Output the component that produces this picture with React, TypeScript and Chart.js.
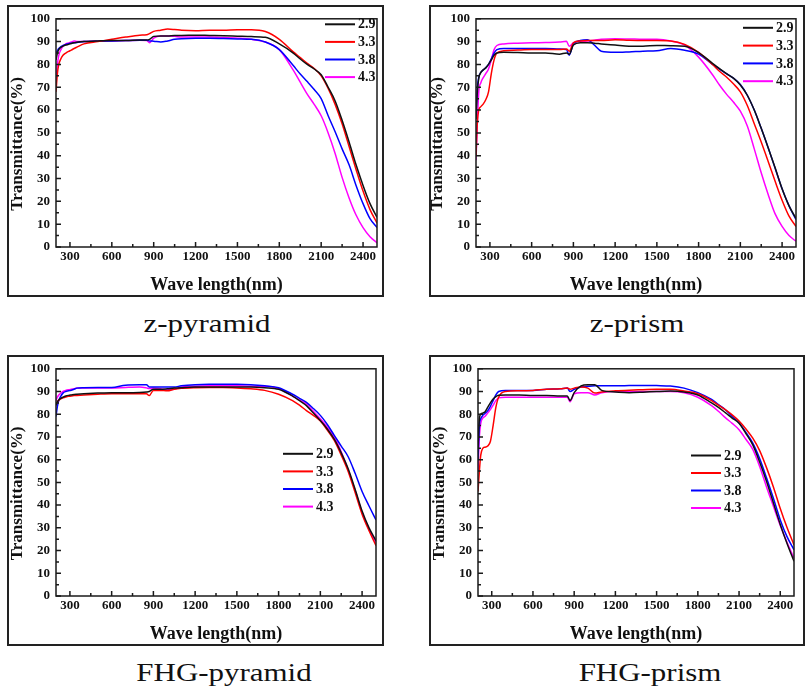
import React, { useEffect, useRef } from "react";
import { Chart, registerables } from "chart.js";

Chart.register(...registerables);

const SERIF = '"Liberation Serif", "Times New Roman", serif';

// Wavelength grid (nm) shared by every series
const WAVELENGTHS = [
  200, 210, 220, 235, 250, 270, 290, 310, 330, 350, 400, 500, 600, 700, 800, 850, 870, 900, 950, 1000,
  1050, 1100, 1200, 1300, 1400, 1500, 1600, 1700, 1800, 1900, 1950, 2000, 2050, 2100, 2150, 2200,
  2250, 2300, 2350, 2400, 2450, 2500,
];

const X_TICKS = [300, 600, 900, 1200, 1500, 1800, 2100, 2400];
const X_MINOR = [450, 750, 1050, 1350, 1650, 1950, 2250];
const Y_TICKS = [0, 10, 20, 30, 40, 50, 60, 70, 80, 90, 100];
const Y_MINOR = [5, 15, 25, 35, 45, 55, 65, 75, 85, 95];

const SERIES_LABELS = ["2.9", "3.3", "3.8", "4.3"];
const SERIES_COLORS = ["#111111", "#ff0000", "#0000ff", "#ff00ff"];

// ---- z-pyramid ----
const Z_PYRAMID_29 = [
  82, 85, 86.5, 87.5, 88, 88.5, 88.8, 89.2, 89.5, 89.7, 90, 90.3, 90.5, 90.5, 90.7, 90.7, 91, 92.3, 92.5, 92.5,
  92.7, 92.7, 92.8, 92.7, 92.6, 92.4, 92.2, 91.9, 89, 85, 82.4, 80, 78, 75.5, 70, 64,
  55.5, 46, 36, 27, 19, 13,
];
const Z_PYRAMID_33 = [
  68, 76, 80, 82.5, 84, 85, 85.7, 86.3, 87, 87.6, 89, 90, 91, 92, 92.8, 93, 93.5, 94.5, 95, 95.5,
  95.3, 95, 94.8, 95, 95, 95.2, 95.2, 94.4, 91, 85.5, 83, 80.5, 78.2, 75, 69.5, 62.5,
  54, 44, 34, 24.5, 16.4, 10.5,
];
const Z_PYRAMID_38 = [
  85, 86, 87, 87.8, 88.3, 88.8, 89.1, 89.3, 89.5, 89.6, 90, 90.2, 90.3, 90.5, 90.6, 90.6, 90.3, 90.2, 89.8, 90.3,
  91, 91.3, 91.5, 91.5, 91.4, 91.2, 91, 89.8, 86.5, 79.5, 75.8, 72.5, 69, 65, 57.5, 50.5,
  43, 36, 27, 19, 12.4, 8.5,
];
const Z_PYRAMID_43 = [
  73, 80, 84, 86.5, 88, 89, 89.4, 89.8, 90.3, 90.1, 90, 90.2, 90.3, 90.5, 90.6, 90.5, 89.5, 91.5, 92.5, 92.5,
  92.3, 92, 92, 92, 91.8, 91.5, 91, 89.8, 86.5, 77.5, 72.2, 67, 62.5, 57.5, 50, 41,
  30.5, 21.5, 14, 8.5, 4.5, 1.8,
];

// ---- z-prism ----
const Z_PRISM_29 = [
  56, 68, 74, 76.5, 77.5, 78.5, 80, 82, 84, 85, 85.3, 85.2, 85, 85, 84.5, 85, 84.5, 88.5, 89.5, 89.5,
  89.3, 89, 88.5, 88, 88, 88.3, 88.2, 88, 85.2, 80.5, 78.2, 76, 74, 71, 66.5, 60,
  52, 43.5, 34.7, 25.5, 18, 12.5,
];
const Z_PRISM_33 = [
  40, 55, 60, 61.5, 62.5, 64.5, 68, 76, 82, 85, 86, 86.3, 86.5, 86.5, 86.5, 86.8, 85.8, 89.5, 90.3, 90.5,
  90.5, 90.5, 90.8, 90.6, 90.5, 90.5, 90.3, 88.8, 85.3, 80, 77, 74.5, 71.5, 68, 62, 54,
  46, 37.5, 28.8, 20.5, 13.5, 9,
];
const Z_PRISM_38 = [
  58, 70, 74.5, 76.5, 77.5, 78.5, 80, 82.5, 85, 86.5, 87, 87, 87, 87, 86.8, 86.5, 84, 89, 90.5, 90.8,
  88.5, 85.8, 85.3, 85.5, 85.8, 86, 87, 86.2, 84.5, 80, 78, 76, 74, 71.2, 66.5, 60,
  52, 43.5, 34.5, 25.5, 18, 12,
];
const Z_PRISM_43 = [
  38, 55, 68, 72, 74, 76, 78, 82, 86.5, 88.3, 89, 89.3, 89.5, 89.6, 89.8, 90.2, 88, 89.5, 90, 90.3,
  90.6, 91, 91.3, 91.2, 91, 91, 90.3, 88.5, 83.2, 75.5, 71, 67, 63.5, 59.5, 53, 43,
  32.5, 23, 14.5, 9, 5, 2.5,
];

// ---- FHG-pyramid ----
const FHG_PYRAMID_29 = [
  84, 85.5, 86.3, 87, 87.5, 88, 88.3, 88.5, 88.7, 88.8, 89, 89.3, 89.5, 89.5, 89.6, 89.8, 90, 91, 91, 91.2,
  91.5, 91.7, 92, 92, 92, 92, 92, 91.7, 91, 88, 86, 83.8, 80.5, 77.2, 73.5, 69,
  63, 56, 47, 37.4, 30, 24.3,
];
const FHG_PYRAMID_33 = [
  84, 85.5, 86.2, 86.8, 87.2, 87.6, 87.9, 88, 88.2, 88.3, 88.5, 88.8, 89, 89, 89, 89, 88.2, 90.5, 90.5, 90.3,
  91, 91.4, 91.7, 91.8, 91.8, 91.6, 91.2, 90.5, 88.8, 86, 84, 81.6, 79.5, 77, 73, 68.5,
  62, 54.8, 45.5, 36, 28.7, 22.2,
];
const FHG_PYRAMID_38 = [
  79, 83.5, 86, 88, 89.3, 90, 90.3, 90.6, 91, 91.5, 91.7, 91.8, 91.8, 92.8, 93, 93, 92, 92, 92, 92,
  92, 92.5, 93, 93.2, 93.2, 93.2, 93, 92.5, 91.7, 88.8, 87, 85.2, 82.5, 79.5, 75.5, 70.7,
  66, 61.3, 54, 46, 39.6, 33.5,
];
const FHG_PYRAMID_43 = [
  86, 87.5, 88.5, 89.3, 90, 90.5, 90.8, 91, 91.2, 91.5, 91.5, 91.5, 91.5, 91.8, 92, 91.6, 91.3, 91.5, 91.2, 90.8,
  91, 92, 92.3, 92.5, 92.5, 92.5, 92.3, 92.3, 91.3, 88, 86.3, 84.5, 81.3, 78, 74.3, 70,
  63.5, 55.5, 46.5, 36.7, 29.4, 23.6,
];

// ---- FHG-prism ----
const FHG_PRISM_29 = [
  65, 78, 80, 80.5, 81, 83, 85, 86.7, 87.8, 88.4, 88.5, 88.5, 88.3, 88.3, 88, 88, 86, 89.5, 92.5, 93,
  93, 90.5, 89.8, 89.5, 89.7, 90, 90.2, 89.8, 88.5, 85, 83, 80.7, 78.3, 76, 71.5, 66.5,
  59, 50.5, 41, 31.5, 23, 15.3,
];
const FHG_PRISM_33 = [
  46, 55, 62, 65, 65.5, 66, 68, 75, 83, 87.5, 90, 90.3, 90.5, 91, 91.2, 91.5, 91, 91.5, 92, 91.5,
  89.3, 89.8, 90.3, 90.6, 90.8, 91, 91, 90.2, 89, 86, 84, 82, 79.7, 77, 73.5, 69.5,
  64, 56.5, 48, 38.5, 30, 22.5,
];
const FHG_PRISM_38 = [
  60, 75, 78, 79.5, 80.3, 81.5, 83.5, 86, 88.5, 90, 90.5, 90.5, 90.5, 91, 91.2, 91.5, 90, 91, 92, 92.3,
  92.5, 92.5, 92.5, 92.6, 92.7, 92.6, 92.4, 91.5, 89.5, 86.5, 84.2, 82, 79, 76.3, 72, 67.3,
  60.5, 52, 43, 33.5, 26, 20.3,
];
const FHG_PRISM_43 = [
  55, 70, 76, 78.3, 79, 80.5, 82, 84, 86, 87.2, 87.5, 87.5, 87.5, 87.5, 87.5, 87.5, 85.5, 89, 89.5, 89.5,
  88.5, 89.5, 90, 90, 90, 90, 90, 89.5, 87.5, 83.8, 81.3, 78.5, 76, 73.2, 69, 64.5,
  57, 48, 39.5, 31, 23.5, 16.7,
];

type Panel = {
  caption: string;
  series: number[][];
  box: { left: number; top: number; width: number; height: number };
  pad: { top: number; right: number; yWidth: number; xHeight: number };
  legend: { dx: number; dy: number; step: number };
  captionX: number;
  captionTop: number;
};

const PANELS: Panel[] = [
  {
    caption: "z-pyramid",
    series: [Z_PYRAMID_29, Z_PYRAMID_33, Z_PYRAMID_38, Z_PYRAMID_43],
    box: { left: 7, top: 5, width: 377, height: 292 },
    pad: { top: 11, right: 7, yWidth: 49, xHeight: 50 },
    legend: { dx: 269, dy: 5.5, step: 17.6 },
    captionX: 207,
    captionTop: 311,
  },
  {
    caption: "z-prism",
    series: [Z_PRISM_29, Z_PRISM_33, Z_PRISM_38, Z_PRISM_43],
    box: { left: 429, top: 5, width: 376, height: 292 },
    pad: { top: 11, right: 9, yWidth: 47, xHeight: 50 },
    legend: { dx: 267, dy: 9, step: 17.8 },
    captionX: 637,
    captionTop: 311,
  },
  {
    caption: "FHG-pyramid",
    series: [FHG_PYRAMID_29, FHG_PYRAMID_33, FHG_PYRAMID_38, FHG_PYRAMID_43],
    box: { left: 7, top: 355, width: 377, height: 291 },
    pad: { top: 11, right: 8, yWidth: 49, xHeight: 50 },
    legend: { dx: 227, dy: 85, step: 17.6 },
    captionX: 224,
    captionTop: 660,
  },
  {
    caption: "FHG-prism",
    series: [FHG_PRISM_29, FHG_PRISM_33, FHG_PRISM_38, FHG_PRISM_43],
    box: { left: 429, top: 355, width: 376, height: 291 },
    pad: { top: 11, right: 11, yWidth: 49, xHeight: 50 },
    legend: { dx: 213, dy: 86.7, step: 17.5 },
    captionX: 650,
    captionTop: 660,
  },
];

const decorPlugin = {
  id: "decor",
  afterDatasetsDraw(chart: any, _args: any, opts: any) {
    const { ctx, chartArea: a, scales } = chart;
    const xs = scales.x;
    const ys = scales.y;
    ctx.save();
    ctx.strokeStyle = "#1a1a1a";
    ctx.lineWidth = 1.5;
    ctx.beginPath();
    X_TICKS.forEach((v) => {
      const x = xs.getPixelForValue(v);
      ctx.moveTo(x, a.bottom);
      ctx.lineTo(x, a.bottom - 5);
    });
    X_MINOR.forEach((v) => {
      const x = xs.getPixelForValue(v);
      ctx.moveTo(x, a.bottom);
      ctx.lineTo(x, a.bottom - 3);
    });
    Y_TICKS.forEach((v) => {
      const y = ys.getPixelForValue(v);
      ctx.moveTo(a.left, y);
      ctx.lineTo(a.left + 5, y);
    });
    Y_MINOR.forEach((v) => {
      const y = ys.getPixelForValue(v);
      ctx.moveTo(a.left, y);
      ctx.lineTo(a.left + 3, y);
    });
    ctx.stroke();
    ctx.strokeRect(a.left, a.top, a.right - a.left, a.bottom - a.top);

    // y axis title
    ctx.save();
    ctx.translate(a.left - 38, (a.top + a.bottom) / 2 + 11);
    ctx.rotate(-Math.PI / 2);
    ctx.font = `bold 17px ${SERIF}`;
    ctx.fillStyle = "#111";
    ctx.textAlign = "center";
    ctx.textBaseline = "middle";
    ctx.fillText("Transmittance(%)", 0, 0);
    ctx.restore();

    // legend
    const lg = opts.legend;
    ctx.font = `bold 14px ${SERIF}`;
    ctx.textAlign = "left";
    ctx.textBaseline = "middle";
    chart.data.datasets.forEach((ds: any, i: number) => {
      const x0 = a.left + lg.dx;
      const y = a.top + lg.dy + i * lg.step;
      ctx.strokeStyle = ds.borderColor;
      ctx.lineWidth = 2;
      ctx.beginPath();
      ctx.moveTo(x0, y);
      ctx.lineTo(x0 + 30, y);
      ctx.stroke();
      ctx.fillStyle = "#111";
      ctx.fillText(ds.label, x0 + 33, y + 0.5);
    });
    ctx.restore();
  },
};

function PanelChart({ panel }: { panel: Panel }) {
  const ref = useRef<HTMLCanvasElement | null>(null);
  useEffect(() => {
    if (!ref.current) return;
    const tickFont = { family: SERIF, size: 13, weight: "bold" as const };
    const chart = new Chart(ref.current, {
      type: "line",
      data: {
        labels: WAVELENGTHS,
        datasets: panel.series.map((vals, i) => ({
          label: SERIES_LABELS[i],
          data: WAVELENGTHS.map((w, j) => ({ x: w, y: vals[j] })),
          borderColor: SERIES_COLORS[i],
          backgroundColor: SERIES_COLORS[i],
          borderWidth: 1.5,
          pointRadius: 0,
          fill: false,
          cubicInterpolationMode: "monotone" as const,
        })),
      },
      options: {
        animation: false,
        responsive: false,
        maintainAspectRatio: false,
        events: [],
        layout: { padding: { top: panel.pad.top, right: panel.pad.right, left: 0, bottom: 0 } },
        plugins: {
          legend: { display: false },
          tooltip: { enabled: false },
          decor: { legend: panel.legend },
        } as any,
        scales: {
          x: {
            type: "linear",
            min: 200,
            max: 2500,
            afterBuildTicks: (s: any) => {
              s.ticks = X_TICKS.map((v) => ({ value: v }));
            },
            afterFit: (s: any) => {
              s.height = panel.pad.xHeight;
            },
            grid: { display: false, drawTicks: false },
            border: { display: false },
            ticks: {
              font: tickFont,
              color: "#111",
              padding: 2,
              maxRotation: 0,
              autoSkip: false,
              callback: (v: any) => String(v),
            },
            title: {
              display: true,
              text: "Wave length(nm)",
              color: "#111",
              font: { family: SERIF, size: 18, weight: "bold" },
              padding: { top: 0, bottom: 1 },
            },
          },
          y: {
            type: "linear",
            min: 0,
            max: 100,
            afterFit: (s: any) => {
              s.width = panel.pad.yWidth;
            },
            grid: { display: false, drawTicks: false },
            border: { display: false },
            ticks: {
              font: tickFont,
              color: "#111",
              padding: 6,
              stepSize: 10,
              autoSkip: false,
              callback: (v: any) => String(v),
            },
          },
        },
      },
      plugins: [decorPlugin],
    });
    return () => chart.destroy();
  }, [panel]);

  const b = panel.box;
  return (
    <>
      <div
        style={{
          position: "absolute",
          left: b.left,
          top: b.top,
          width: b.width,
          height: b.height,
          boxSizing: "border-box",
          border: "2px solid #222",
        }}
      />
      <canvas
        ref={ref}
        width={b.width}
        height={b.height}
        style={{ position: "absolute", left: b.left, top: b.top, width: b.width, height: b.height, display: "block" }}
      />
      <div
        style={{
          position: "absolute",
          left: panel.captionX - 150,
          top: panel.captionTop,
          width: 300,
          textAlign: "center",
          fontFamily: SERIF,
          fontSize: 26,
          lineHeight: "26px",
          color: "#111",
          transform: "scaleX(1.19)",
          whiteSpace: "nowrap",
        }}
      >
        {panel.caption}
      </div>
    </>
  );
}

export default function App() {
  return (
    <div style={{ position: "absolute", left: 0, top: 0, width: 809, height: 694, background: "#fff", overflow: "hidden" }}>
      {PANELS.map((p) => (
        <PanelChart key={p.caption} panel={p} />
      ))}
    </div>
  );
}
